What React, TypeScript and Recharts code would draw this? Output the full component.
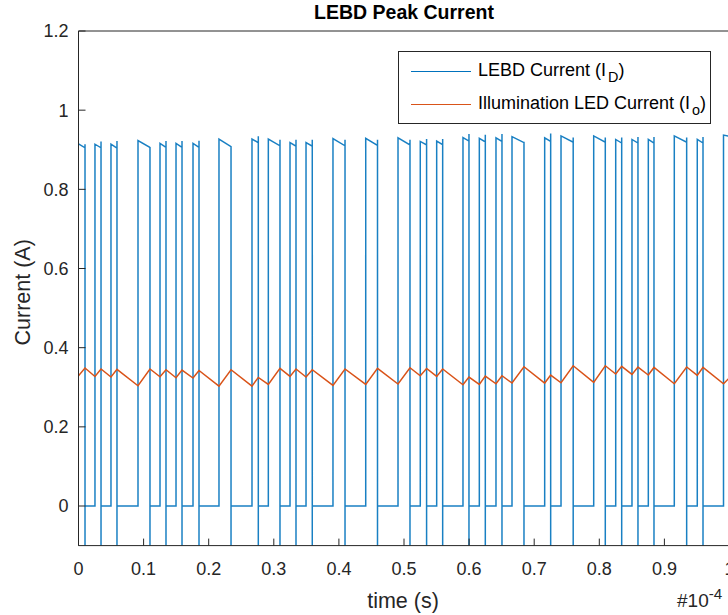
import { Line, LineChart, XAxis, YAxis } from 'recharts'

// time axis is in units of 1e-4 s
const xTicks = [0, 0.1, 0.2, 0.3, 0.4, 0.5, 0.6, 0.7, 0.8, 0.9, 1]
const yTicks = [0, 0.2, 0.4, 0.6, 0.8, 1, 1.2]

// LEBD current pulses: rising / falling edge times
const pulseRise = [
  0, 0.0253, 0.0499, 0.0914, 0.1252, 0.1498, 0.1759, 0.2158, 0.2665, 0.2916, 0.3249, 0.3495, 0.3909, 0.4412,
  0.4908, 0.525, 0.5502, 0.5906, 0.6157, 0.6413, 0.6659, 0.7161, 0.7412, 0.7914, 0.8252, 0.8502, 0.8753,
  0.9152, 0.9505, 0.9908,
]
const pulseFall = [
  0.01, 0.0346, 0.0591, 0.1098, 0.1344, 0.159, 0.1851, 0.2343, 0.2762, 0.3095, 0.3341, 0.3591, 0.4094, 0.4593,
  0.5092, 0.5347, 0.5594, 0.5998, 0.6249, 0.6505, 0.6843, 0.7253, 0.7599, 0.8092, 0.8344, 0.8594, 0.884,
  0.9342, 0.9593,
]
// level right after the rising edge
const pulseTop = [
  0.915, 0.914, 0.914, 0.923, 0.916, 0.916, 0.916, 0.927, 0.927, 0.927, 0.918, 0.918, 0.928, 0.929, 0.93,
  0.921, 0.922, 0.931, 0.929, 0.93, 0.933, 0.93, 0.935, 0.935, 0.926, 0.926, 0.926, 0.935, 0.926, 0.937,
]
// level just before the falling edge
const pulseEnd = [
  0.905, 0.905, 0.904, 0.906, 0.906, 0.906, 0.906, 0.908, 0.918, 0.91, 0.909, 0.909, 0.91, 0.911, 0.912,
  0.912, 0.913, 0.922, 0.92, 0.921, 0.918, 0.921, 0.919, 0.919, 0.917, 0.917, 0.917, 0.919, 0.917, 0.934,
]
// small overshoot at the falling edge
const pulseSpike = [
  0.914, 0.921, 0.922, 0.907, 0.922, 0.922, 0.923, 0.908, 0.934, 0.925, 0.925, 0.925, 0.925, 0.925, 0.925,
  0.927, 0.927, 0.94, 0.938, 0.94, 0.92, 0.941, 0.931, 0.931, 0.931, 0.932, 0.932, 0.931, 0.932,
]
// ringing after the undershoot
const pulseRebound = [
  0, 0, 0, 0.17, 0, 0, 0, 0, 0.43, 0, 0.058, 0, 0, 0, 0, 0.06, 0.066, 0.087, 0, 0.078, 0, 0.018, 0, 0, 0,
  0.078, 0.104, 0, 0.068,
]
const undershoot = -0.3

// illumination LED current at each rising / falling edge
const ledTrough = [
  0.329, 0.3273, 0.3258, 0.3038, 0.3266, 0.3241, 0.3233, 0.303, 0.303, 0.3071, 0.3273, 0.3258, 0.3046, 0.3071,
  0.3081, 0.3291, 0.3273, 0.3063, 0.3071, 0.3089, 0.3106, 0.3106, 0.3114, 0.3122, 0.3334, 0.3324, 0.3309,
  0.3089, 0.3299, 0.3089,
]
const ledPeak = [
  0.3486, 0.3461, 0.3451, 0.3461, 0.3443, 0.3435, 0.3425, 0.3443, 0.3248, 0.3476, 0.3461, 0.3443, 0.3461,
  0.3476, 0.3494, 0.3476, 0.3461, 0.3258, 0.3284, 0.3291, 0.3519, 0.3309, 0.3544, 0.3544, 0.3527, 0.3511,
  0.3501, 0.3511, 0.3501,
]
const ledEnd = 0.324

const BLUE = '#0072BD'
const ORANGE = '#D95319'
const AXIS = '#262626'
const FONT = '"Liberation Sans", Arial, Helvetica, sans-serif'

const lebdData: { t: number; v: number }[] = []
pulseRise.forEach((r, i) => {
  if (i > 0) lebdData.push({ t: r, v: 0 })
  lebdData.push({ t: r, v: pulseTop[i] })
  const f = pulseFall[i]
  if (f === undefined) {
    lebdData.push({ t: 1, v: pulseEnd[i] })
    return
  }
  lebdData.push({ t: f, v: pulseEnd[i] })
  lebdData.push({ t: f, v: pulseSpike[i] })
  lebdData.push({ t: f, v: undershoot })
  lebdData.push({ t: f, v: pulseRebound[i] })
  lebdData.push({ t: f, v: 0 })
})

const ledData: { t: number; v: number }[] = []
pulseRise.forEach((r, i) => {
  ledData.push({ t: r, v: ledTrough[i] })
  if (pulseFall[i] !== undefined) ledData.push({ t: pulseFall[i], v: ledPeak[i] })
})
ledData.push({ t: 1, v: ledEnd })

function BottomTick({ x, y, payload }: any) {
  return (
    <g>
      <line x1={x} y1={y} x2={x} y2={y - 7} stroke={AXIS} />
      <text x={x} y={y + 29} textAnchor="middle" fill={AXIS} fontSize={18} fontFamily={FONT}>
        {payload.value}
      </text>
    </g>
  )
}

function TopTick({ x, y }: any) {
  return <line x1={x} y1={y} x2={x} y2={y + 7} stroke={AXIS} />
}

function LeftTick({ x, y, payload }: any) {
  return (
    <g>
      <line x1={x} y1={y} x2={x + 7} y2={y} stroke={AXIS} />
      <text x={x - 10} y={y} dy="0.36em" textAnchor="end" fill={AXIS} fontSize={18} fontFamily={FONT}>
        {payload.value}
      </text>
    </g>
  )
}

function RightTick({ x, y }: any) {
  return <line x1={x} y1={y} x2={x - 7} y2={y} stroke={AXIS} />
}

export default function App() {
  return (
    <div
      style={{
        position: 'fixed',
        left: 0,
        top: 0,
        width: 728,
        height: 615,
        overflow: 'hidden',
        background: '#fff',
        fontFamily: FONT,
      }}
    >
      <div
        style={{
          position: 'absolute',
          left: 0,
          top: 1,
          width: 808,
          textAlign: 'center',
          fontWeight: 'bold',
          fontSize: 19.5,
          color: '#000',
        }}
      >
        LEBD Peak Current
      </div>
      <LineChart width={760} height={615} margin={{ top: 30, right: 20.5, bottom: 0, left: 0 }}>
        <XAxis
          dataKey="t"
          type="number"
          domain={[0, 1]}
          ticks={xTicks}
          interval={0}
          allowDataOverflow
          height={69.4}
          stroke={AXIS}
          tickLine={false}
          tickSize={0}
          tickMargin={0}
          tick={<BottomTick />}
          label={(props: any) => {
            const vb = props.viewBox
            return (
              <text
                x={vb.x + vb.width / 2 - 1}
                y={vb.y + 62}
                textAnchor="middle"
                fill={AXIS}
                fontSize={21.5}
                fontFamily={FONT}
              >
                time (s)
              </text>
            )
          }}
        />
        <XAxis
          xAxisId="top"
          orientation="top"
          type="number"
          domain={[0, 1]}
          ticks={xTicks}
          interval={0}
          height={1}
          stroke={AXIS}
          tickLine={false}
          tickSize={0}
          tickMargin={0}
          tick={<TopTick />}
        />
        <YAxis
          type="number"
          domain={[-0.1, 1.2]}
          ticks={yTicks}
          interval={0}
          allowDataOverflow
          width={78.5}
          stroke={AXIS}
          tickLine={false}
          tickSize={0}
          tickMargin={0}
          tick={<LeftTick />}
          label={(props: any) => {
            const vb = props.viewBox
            const cx = 22
            const cy = vb.y + vb.height / 2 + 4
            return (
              <text
                x={cx}
                y={cy}
                transform={`rotate(-90 ${cx} ${cy})`}
                textAnchor="middle"
                dy="0.36em"
                fill={AXIS}
                fontSize={21.5}
                fontFamily={FONT}
              >
                Current (A)
              </text>
            )
          }}
        />
        <YAxis
          yAxisId="right"
          orientation="right"
          type="number"
          domain={[-0.1, 1.2]}
          ticks={yTicks}
          interval={0}
          width={10}
          stroke={AXIS}
          tickLine={false}
          tickSize={0}
          tickMargin={0}
          tick={<RightTick />}
        />
        <Line
          data={lebdData}
          dataKey="v"
          type="linear"
          stroke={BLUE}
          strokeWidth={1.5}
          strokeOpacity={0.9}
          dot={false}
          activeDot={false}
          isAnimationActive={false}
        />
        <Line
          data={ledData}
          dataKey="v"
          type="linear"
          stroke={ORANGE}
          strokeWidth={1.5}
          dot={false}
          activeDot={false}
          isAnimationActive={false}
        />
      </LineChart>
      <div
        style={{
          position: 'absolute',
          left: 398,
          top: 51,
          width: 311,
          height: 71,
          border: `1px solid ${AXIS}`,
          background: '#fff',
          fontSize: 18,
          color: '#000',
        }}
      >
        <div style={{ position: 'absolute', left: 12, top: 19, width: 60, height: 1, background: BLUE }} />
        <div style={{ position: 'absolute', left: 79, top: 7, whiteSpace: 'nowrap', lineHeight: '22px' }}>
          LEBD Current (I
          <span style={{ fontSize: '0.8em', position: 'relative', top: '0.4em', marginLeft: 2 }}>D</span>)
        </div>
        <div style={{ position: 'absolute', left: 12, top: 52, width: 60, height: 1, background: ORANGE }} />
        <div style={{ position: 'absolute', left: 79, top: 40, whiteSpace: 'nowrap', lineHeight: '22px' }}>
          Illumination LED Current (I
          <span style={{ fontSize: '0.8em', position: 'relative', top: '0.4em', marginLeft: 2 }}>o</span>)
        </div>
      </div>
      <div
        style={{
          position: 'absolute',
          left: 677,
          top: 591,
          fontSize: 19,
          color: AXIS,
          whiteSpace: 'nowrap',
          lineHeight: '20px',
        }}
      >
        #10
        <span style={{ fontSize: '0.8em', position: 'relative', top: '-0.55em' }}>-4</span>
      </div>
    </div>
  )
}
